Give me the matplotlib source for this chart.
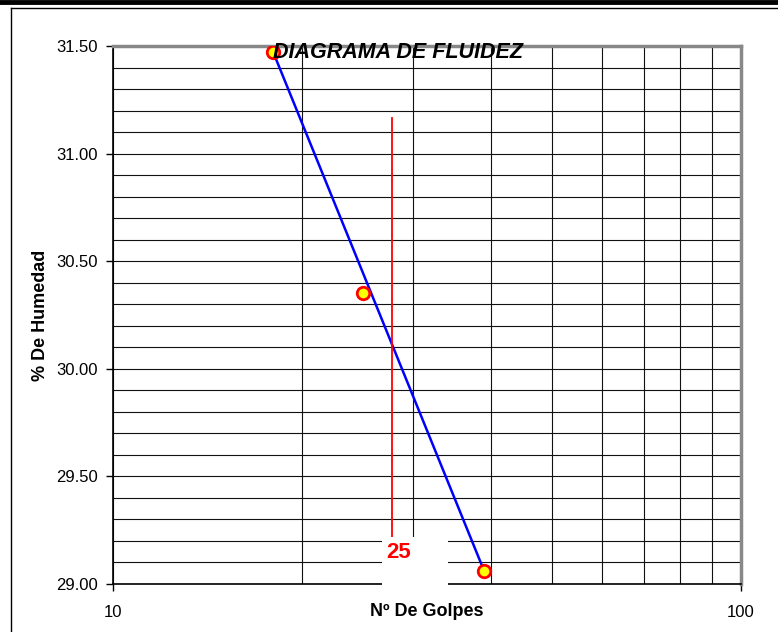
import numpy as np
import matplotlib.pyplot as plt
from matplotlib.lines import Line2D
from matplotlib.patches import Rectangle
from matplotlib.ticker import FixedLocator, MultipleLocator, NullFormatter

plt.rcParams['font.family'] = ['Liberation Sans', 'DejaVu Sans']

# ensayo de limite liquido
golpes = [18, 25, 39]
humedad = [31.47, 30.35, 29.06]
etiqueta_ref = "25"

fig = plt.figure(figsize=(7.78, 6.32), dpi=100)
ax = fig.add_axes([113 / 778, 1 - 584 / 632, 628 / 778, 538 / 632])

ax.set_xscale('log')
ax.set_xlim(10, 100)
ax.set_ylim(29.0, 31.5)

# recta entre el primer y el ultimo ensayo
ax.plot([golpes[0], golpes[-1]], [humedad[0], humedad[-1]], color='#0000ff', lw=1.8, zorder=3)
ax.plot(golpes, humedad, 'o', ms=9, mfc='#ffff00', mec='#ff0000', mew=2, zorder=4)

# rejilla
ax.xaxis.set_major_locator(FixedLocator([10, 100]))
ax.xaxis.set_minor_locator(FixedLocator([20, 30, 40, 50, 60, 70, 80, 90]))
ax.xaxis.set_minor_formatter(NullFormatter())
ax.set_xticks([10, 100], ['10', '100'])
ax.yaxis.set_major_locator(MultipleLocator(0.5))
ax.yaxis.set_minor_locator(MultipleLocator(0.1))
ax.yaxis.set_major_formatter(lambda v, p: f"{v:.2f}")
ax.grid(True, which='both', color='#111111', lw=0.8)
ax.set_axisbelow(True)
ax.tick_params(which='major', direction='out', length=5, width=1, labelsize=12, pad=6)
ax.tick_params(axis='x', which='major', pad=10)
ax.tick_params(which='minor', length=0)

for s in ['top', 'right']:
    ax.spines[s].set_color('#888888')
    ax.spines[s].set_linewidth(2.5)
for s in ['left', 'bottom']:
    ax.spines[s].set_color('black')
    ax.spines[s].set_linewidth(1.2)

# linea de referencia y su etiqueta
ax.add_line(Line2D([0.444, 0.444], [0.087, 0.866], transform=ax.transAxes,
                   color='#ff0000', lw=1.3, zorder=3))
ax.add_patch(Rectangle((0.429, -0.012), 0.105, 0.099, transform=ax.transAxes,
                       facecolor='white', edgecolor='none', clip_on=False, zorder=5))
ax.text(0.455, 0.058, etiqueta_ref, transform=ax.transAxes, color='#ff0000',
        fontsize=16, fontweight='bold', ha='center', va='center', zorder=6)

ax.set_title('DIAGRAMA DE FLUIDEZ', fontsize=15.5, fontweight='bold', style='italic',
             x=0.454, y=0.962, zorder=7)
ax.set_xlabel('Nº De Golpes', fontsize=13, fontweight='bold', labelpad=-12)
ax.set_ylabel('% De Humedad', fontsize=13, fontweight='bold', labelpad=5)

# marco
fig.add_artist(Line2D([0, 1], [1 - 2 / 632, 1 - 2 / 632], color='black', lw=3.5))
fig.add_artist(Line2D([11 / 778, 11 / 778], [0, 1 - 8 / 632], color='black', lw=1))
fig.add_artist(Line2D([11 / 778, 1], [1 - 8 / 632, 1 - 8 / 632], color='black', lw=1))

fig.savefig('out.png', dpi=100)
